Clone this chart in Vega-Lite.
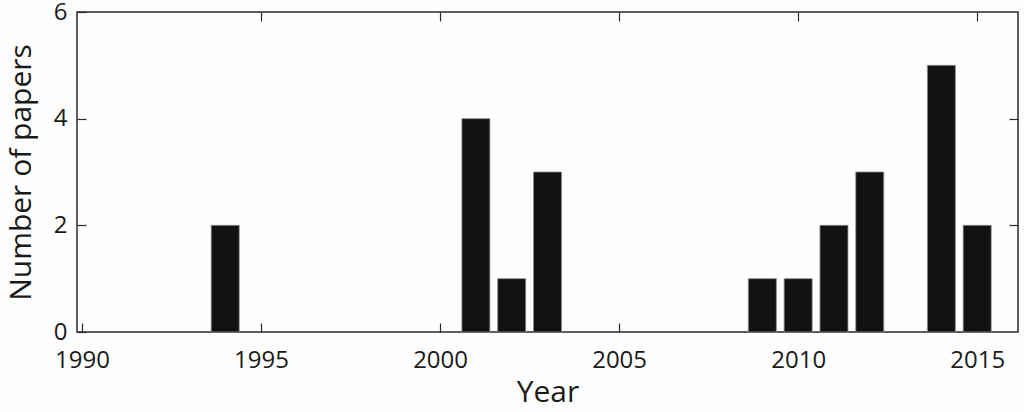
{
  "$schema": "https://vega.github.io/schema/vega-lite/v6.json",
  "width": 941,
  "height": 320,
  "autosize": {"type": "none"},
  "padding": {"left": 77, "top": 12, "right": 6, "bottom": 80},
  "background": "#fefefe",
  "data": {
    "values": [
      {"year": 1994, "papers": 2},
      {"year": 2001, "papers": 4},
      {"year": 2002, "papers": 1},
      {"year": 2003, "papers": 3},
      {"year": 2009, "papers": 1},
      {"year": 2010, "papers": 1},
      {"year": 2011, "papers": 2},
      {"year": 2012, "papers": 3},
      {"year": 2014, "papers": 5},
      {"year": 2015, "papers": 2}
    ]
  },
  "config": {
    "view": {"stroke": "#2a2a2a", "strokeWidth": 1.5},
    "axis": {
      "domain": false,
      "grid": false,
      "tickColor": "#2a2a2a",
      "tickWidth": 1.2,
      "tickSize": -9,
      "labelFont": "Open Sans",
      "labelFontSize": 24,
      "labelColor": "#1a1a1a",
      "titleFont": "Open Sans",
      "titleFontSize": 30,
      "titleFontWeight": "normal",
      "titleColor": "#1a1a1a"
    }
  },
  "layer": [
    {
      "mark": {"type": "bar", "size": 28, "color": "#121212", "stroke": "#8a8a8a", "strokeWidth": 0.8},
      "encoding": {
        "x": {
          "field": "year",
          "type": "quantitative",
          "scale": {"domain": [1990, 2016], "nice": false, "zero": false},
          "axis": {"values": [1990, 1995, 2000, 2005, 2010, 2015], "format": "d", "title": "Year", "labelPadding": 25, "titlePadding": 5, "labelFlush": false, "labelOverlap": false}
        },
        "y": {
          "field": "papers",
          "type": "quantitative",
          "scale": {"domain": [0, 6], "nice": false},
          "axis": {"values": [0, 2, 4, 6], "title": "Number of papers", "labelPadding": 19, "titlePadding": 17, "labelFlush": false, "labelOverlap": false}
        }
      }
    },
    {
      "mark": {"type": "point", "opacity": 0},
      "encoding": {
        "x": {
          "field": "year",
          "type": "quantitative",
          "scale": {"domain": [1990, 2016], "nice": false, "zero": false},
          "axis": {"orient": "top", "values": [1995, 2000, 2005, 2010, 2015], "labels": false, "title": null}
        },
        "y": {
          "field": "papers",
          "type": "quantitative",
          "scale": {"domain": [0, 6], "nice": false},
          "axis": {"orient": "right", "values": [2, 4], "labels": false, "title": null}
        }
      }
    }
  ],
  "resolve": {"axis": {"x": "independent", "y": "independent"}}
}
